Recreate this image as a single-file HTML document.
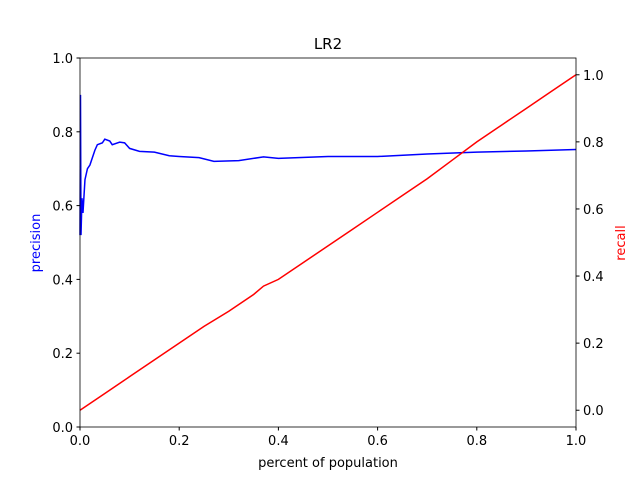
<!DOCTYPE html>
<html><head><meta charset="utf-8"><style>
body{margin:0;background:#fff}
text{font-family:"DejaVu Sans","Liberation Sans",sans-serif}
</style></head><body>
<svg id="c" width="640" height="480" xmlns="http://www.w3.org/2000/svg">
<rect width="640" height="480" fill="#fff"/>
</svg>
<script>
const recallX=[0,0.05,0.1,0.15,0.2,0.25,0.3,0.35,0.37,0.4,0.45,0.5,0.55,0.6,0.65,0.7,0.75,0.8,0.85,0.9,0.95,1.0];
const recallY=[0,0.05,0.1,0.15,0.2,0.25,0.295,0.345,0.37,0.39,0.44,0.49,0.54,0.59,0.64,0.69,0.745,0.8,0.85,0.9,0.95,1.0];
const precX=[0,0.001,0.002,0.004,0.006,0.01,0.015,0.02,0.03,0.035,0.045,0.05,0.06,0.065,0.08,0.09,0.1,0.12,0.15,0.18,0.2,0.24,0.27,0.32,0.37,0.4,0.5,0.6,0.7,0.8,0.9,1.0];
const precY=[0.52,0.9,0.52,0.62,0.58,0.67,0.70,0.71,0.75,0.765,0.77,0.78,0.775,0.765,0.772,0.77,0.755,0.747,0.745,0.735,0.733,0.73,0.72,0.722,0.732,0.728,0.733,0.733,0.74,0.745,0.748,0.752];
const xTicks=[0,0.2,0.4,0.6,0.8,1.0];
const yTicks=[0,0.2,0.4,0.6,0.8,1.0];
const rTicks=[0,0.2,0.4,0.6,0.8,1.0];
const L=80,R=576,T=58,B=427;
const sx=v=>L+v*(R-L), sy=v=>B-v*(B-T), sr=v=>B-(v+0.05)/1.1*(B-T);
const svg=document.getElementById('c');const NS='http://www.w3.org/2000/svg';
function mk(t,a,p){const e=document.createElementNS(NS,t);for(const k in a)e.setAttribute(k,a[k]);(p||svg).appendChild(e);return e;}
function line(xs,ys,f,col,name){const p=mk('polyline',{points:xs.map((x,i)=>sx(x)+','+f(ys[i])).join(' '),fill:'none',stroke:col,'stroke-width':1.5});

}
line(precX,precY,sy,'#0000ff','precision-line');
line(recallX,recallY,sr,'#ff0000','recall-line');
const fr=mk('rect',{x:L,y:T,width:R-L,height:B-T,fill:'none',stroke:'#000','stroke-width':0.8});


function txt(x,y,s,a,col,size,rot){const e=mk('text',{x:x,y:y,'text-anchor':a,fill:col||'#000','font-size':size||13});if(rot)e.setAttribute('transform','rotate(-90 '+x+' '+y+')');e.textContent=s;return e;}
xTicks.forEach(v=>{mk('line',{x1:sx(v),x2:sx(v),y1:B,y2:B+3.5,stroke:'#000'});const t=txt(sx(v),B+18,v.toFixed(1),'middle');

});
yTicks.forEach(v=>{mk('line',{x1:L-3.5,x2:L,y1:sy(v),y2:sy(v),stroke:'#000'});const t=txt(L-7,sy(v)+5,v.toFixed(1),'end');

});
rTicks.forEach(v=>{mk('line',{x1:R,x2:R+3.5,y1:sr(v),y2:sr(v),stroke:'#000'});const t=txt(R+7,sr(v)+5,v.toFixed(1),'start');

});
const ti=txt(328,49,'LR2','middle','#000',15);


const xl=txt(328,467,'percent of population','middle');


const yl=txt(40,243,'precision','middle','#0000ff',13,true);


const rl=txt(625,243,'recall','middle','#ff0000',13,true);


</script>
</body></html>
